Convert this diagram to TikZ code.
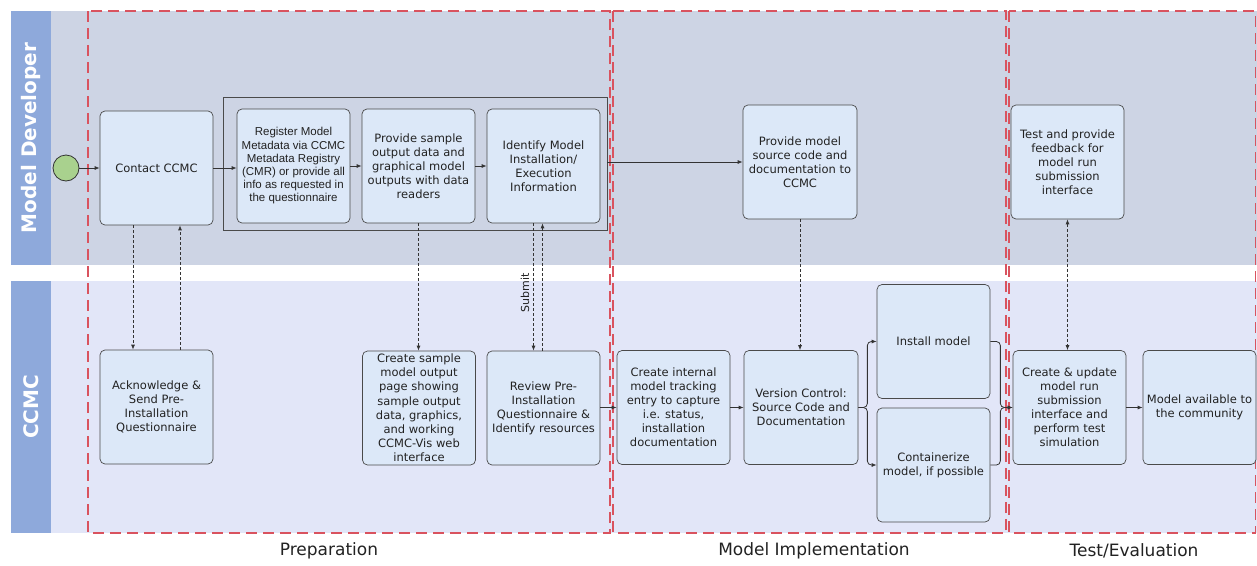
\documentclass[tikz,border=0pt]{standalone}
\usepackage{fontspec}
\setmainfont{DejaVu Sans}
\newfontfamily\arialfont{Liberation Sans}
\usetikzlibrary{arrows.meta}
\definecolor{lanebar}{HTML}{8EA9DB}
\definecolor{topbg}{HTML}{CDD4E4}
\definecolor{botbg}{HTML}{E2E6F8}
\definecolor{boxfill}{HTML}{DCE8F8}
\definecolor{boxdraw}{HTML}{4A4A4A}
\definecolor{redframe}{HTML}{D9535F}
\definecolor{startgreen}{HTML}{A9D18E}
\definecolor{txt}{HTML}{222222}
\tikzset{
  box/.style={draw=boxdraw, fill=boxfill, rounded corners=5pt, line width=0.7pt,
    minimum width=113pt, minimum height=114pt, inner sep=1pt, align=center,
    text=txt, font=\fontsize{11.5}{14}\selectfont},
  flow/.style={draw=black!80, line width=0.8pt, -{Latex[length=5pt,width=4pt]}},
  msgline/.style={flow, dash pattern=on 3pt off 2pt},
  phaseframe/.style={draw=redframe, line width=1.8pt, dash pattern=on 11pt off 6pt},
  lanelabel/.style={rotate=90, text=white, font=\bfseries\fontsize{20}{24}\selectfont},
  phaselabel/.style={text=txt, font=\fontsize{17}{20}\selectfont},
}
\begin{document}
\begin{tikzpicture}[x=1pt,y=-1pt]
\useasboundingbox (0,0) rectangle (1257,565);
\fill[white] (0,0) rectangle (1257,565);
% lanes
\fill[lanebar] (11,11) rectangle (51,265);
\fill[lanebar] (11,281) rectangle (51,533);
\fill[topbg] (51,11) rectangle (1257,265);
\fill[botbg] (51,281) rectangle (1257,533);
\node[lanelabel] (lanedev) at (31,138) {Model Developer};
\node[lanelabel] (laneccmc) at (31,407) {CCMC};
% phases
\draw[phaseframe] (88,11) rectangle (610,533);
\draw[phaseframe] (613,11) rectangle (1006,533);
\draw[phaseframe] (1009,11) rectangle (1255.5,533);
\node[phaselabel] (prep) at (329,551) {Preparation};
\node[phaselabel] (impl) at (814,551) {Model Implementation};
\node[phaselabel] (testev) at (1134,551) {Test/Evaluation};
% group
\node[draw=boxdraw, line width=0.8pt, minimum width=384pt, minimum height=133pt, inner sep=0pt] (group) at (415,163.5) {};
% start
\node[circle, draw=black!80, line width=0.8pt, fill=startgreen, minimum size=26pt, inner sep=0pt] (start) at (66,168) {};
% top lane boxes
\node[box] (contact) at (156.5,168) {Contact CCMC};
\node[box, font=\arialfont\fontsize{11.5}{13.2}\selectfont] (register) at (293.5,166) {Register Model\\Metadata via CCMC\\Metadata Registry\\(CMR) or provide all\\info as requested in\\the questionnaire};
\node[box] (provsample) at (418.5,166) {Provide sample\\output data and\\graphical model\\outputs with data\\readers};
\node[box] (identify) at (543.5,166) {Identify Model\\Installation/\\Execution\\Information};
\node[box, minimum width=114pt] (provmodel) at (800,162) {Provide model\\source code and\\documentation to\\CCMC};
\node[box] (testfb) at (1067.5,162) {Test and provide\\feedback for\\model run\\submission\\interface};
% bottom lane boxes
\node[box] (ack) at (156.5,407) {Acknowledge \&\\Send Pre-\\Installation\\Questionnaire};
\node[box, font=\fontsize{11.5}{14.2}\selectfont] (createsample) at (419,408) {Create sample\\model output\\page showing\\sample output\\data, graphics,\\and working\\CCMC-Vis web\\interface};
\node[box] (review) at (543.5,408) {Review Pre-\\Installation\\Questionnaire \&\\Identify resources};
\node[box] (createint) at (673.5,407.5) {Create internal\\model tracking\\entry to capture\\i.e. status,\\installation\\documentation};
\node[box, minimum width=114pt] (vc) at (801,407.5) {Version Control:\\Source Code and\\Documentation};
\node[box] (install) at (933.5,341.5) {Install model};
\node[box] (contain) at (933.5,465) {Containerize\\model, if possible};
\node[box] (createupd) at (1069.5,407.5) {Create \& update\\model run\\submission\\interface and\\perform test\\simulation};
\node[box] (avail) at (1199.5,407.5) {Model available to\\the community};
% flows
\draw[flow] (start) -- (contact);
\draw[flow] (contact.east) -- (register.west |- contact.east);
\draw[flow] (register) -- (provsample);
\draw[flow] (provsample) -- (identify);
\draw[flow] (group.east |- provmodel.west) -- (provmodel.west);
\draw[flow] (review.east |- createint.west) -- (createint.west);
\draw[flow] (createint) -- (vc);
\draw[flow, rounded corners=4pt] (vc.east) -- ++(9,0) |- (install.west);
\draw[flow, rounded corners=4pt] (vc.east) -- ++(9,0) |- (contain.west);
\draw[flow, rounded corners=4pt] (install.east) -- ++(10,0) |- (createupd.west);
\draw[flow, rounded corners=4pt] (contain.east) -- ++(10,0) |- (createupd.west);
\draw[flow] (createupd) -- (avail);
% messages
\draw[msgline] ([xshift=-23.5pt]contact.south) -- ([xshift=-23.5pt]ack.north);
\draw[msgline] ([xshift=23.5pt]ack.north) -- ([xshift=23.5pt]contact.south);
\draw[msgline] (provsample.south) -- (provsample.south |- createsample.north);
\draw[msgline] ([xshift=-10pt]identify.south) -- ([xshift=-10pt]review.north);
\draw[msgline] ([xshift=-1pt]review.north) -- ([xshift=-1pt]identify.south);
\node[rotate=90, text=txt, font=\fontsize{11}{13}\selectfont] (submit) at (525,293) {Submit};
\draw[msgline] (provmodel.south) -- (provmodel.south |- vc.north);
\draw[msgline, {Latex[length=5pt,width=4pt]}-{Latex[length=5pt,width=4pt]}] (testfb.south) -- (testfb.south |- createupd.north);
\end{tikzpicture}
\end{document}
